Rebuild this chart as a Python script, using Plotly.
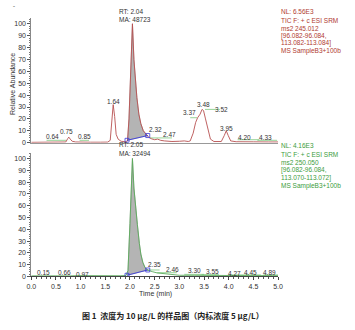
import numpy as np
import plotly.graph_objects as go

# ---------------- data ----------------
# top chromatogram (m/z 245.012 transition), relative abundance %
top_t = [0.0, 0.3, 0.6, 0.70, 0.74, 0.76, 0.79, 0.83, 0.90, 1.0, 1.2, 1.4, 1.55, 1.60, 1.63, 1.66,
         1.69, 1.72, 1.76, 1.82, 1.90, 1.95, 1.98, 2.01, 2.05, 2.08, 2.11, 2.14, 2.18, 2.22, 2.27,
         2.32, 2.38, 2.44, 2.50, 2.56, 2.62, 2.70, 2.85, 3.00, 3.10, 3.18, 3.22, 3.28, 3.33, 3.37,
         3.42, 3.46, 3.49, 3.53, 3.58, 3.63, 3.70, 3.85, 3.91, 3.95, 3.99, 4.04, 4.15, 4.30, 4.50,
         4.80, 5.0]
top_y = [0.3, 0.3, 0.4, 0.6, 3.5, 4.7, 3.0, 1.2, 0.6, 0.4, 0.4, 0.4, 0.5, 2.0, 20, 32,
         22, 7, 3.0, 1.2, 0.8, 1.5, 20, 60, 100, 70, 50, 38, 24, 16, 10,
         7.5, 4.5, 3.2, 2.5, 3.0, 2.0, 1.5, 1.0, 1.2, 1.5, 1.0, 1.5, 8, 17, 21,
         24, 28, 27, 20, 10, 3, 1, 1, 6, 10, 6, 1.5, 0.8, 1.0, 0.7,
         0.6, 0.6]

# bottom chromatogram (internal standard, m/z 250.050)
bot_t = [0.0, 0.15, 0.3, 0.5, 0.66, 0.8, 0.97, 1.2, 1.5, 1.8, 1.92, 1.96, 2.00, 2.05, 2.08, 2.11,
         2.15, 2.19, 2.22, 2.26, 2.30, 2.35, 2.40, 2.46, 2.55, 2.65, 2.80, 3.00, 3.30, 3.55, 3.80,
         4.27, 4.45, 4.89, 5.0]
bot_y = [0.5, 0.8, 0.5, 0.5, 0.8, 0.5, 0.7, 0.5, 0.5, 0.6, 0.8, 5, 45, 100, 75, 58,
         44, 28, 19, 12, 8, 5.5, 4.5, 4.0, 3.0, 2.5, 1.5, 1.0, 1.0, 0.8, 0.7,
         0.7, 0.7, 0.7, 0.6]

# integration baselines (start t, start y, end t, end y)
top_base = [1.94, 2.0, 2.36, 6.0]
bot_base = [1.94, 1.0, 2.36, 5.5]

# green baseline segments (t0, t1, level)
top_green = [(0.31, 0.71, 2.0), (0.98, 1.17, 2.0), (2.40, 2.85, 4.0), (3.22, 3.36, 21.0),
             (3.52, 3.82, 28.0), (4.18, 4.62, 2.5), (4.58, 4.98, 2.0)]
bot_green = [(2.36, 2.60, 5.5), (2.55, 2.95, 3.2), (3.10, 3.50, 1.8), (3.45, 3.80, 1.5),
             (4.00, 4.40, 1.3), (4.35, 4.65, 1.3), (4.70, 5.00, 1.3)]

# peak labels (text, t, y)
top_labels = [("0.64", 0.44, 5.6), ("0.75", 0.715, 9.0), ("0.85", 1.08, 5.6), ("1.64", 1.67, 35),
              ("2.32", 2.51, 11), ("2.47", 2.81, 7), ("3.37", 3.21, 25), ("3.48", 3.48, 32.5),
              ("3.52", 3.85, 28), ("3.95", 3.96, 11.7), ("4.20", 4.32, 4.7), ("4.33", 4.74, 4.2)]
bot_labels = [("0.15", 0.24, 3.4), ("0.66", 0.68, 3.4), ("0.97", 1.04, 2.0), ("2.35", 2.50, 10),
              ("2.46", 2.87, 6), ("3.30", 3.31, 4.8), ("3.55", 3.67, 4.2), ("4.27", 4.11, 2.5),
              ("4.45", 4.45, 3.4), ("4.89", 4.83, 3.4)]

top_rt = ["RT: 2.04", "MA: 48723"]
bot_rt = ["RT: 2.05", "MA: 32494"]
top_info = ["NL: 6.56E3", "TIC F: + c ESI SRM", "ms2 245.012", "[96.082-96.084,",
            "113.082-113.084]", "MS SampleB3+100b"]
bot_info = ["NL: 4.16E3", "TIC F: + c ESI SRM", "ms2 250.050", "[96.082-96.084,",
            "113.070-113.072]", "MS SampleB3+100b"]
x_ticks = [0.0, 0.5, 1.0, 1.5, 2.0, 2.5, 3.0, 3.5, 4.0, 4.5, 5.0]
y_ticks = [0, 10, 20, 30, 40, 50, 60, 70, 80, 90, 100]
caption = "图 1  浓度为 10 μg/L 的样品图（内标浓度 5 μg/L）"

# ---------------- figure ----------------
W, H = 355, 330
RED, RED_TXT = "#b85050", "#b03a30"
GRN, GRN_TXT = "#5aaa5a", "#3c9c3c"
FONT = "Liberation Sans, Arial, sans-serif"

fig = go.Figure()


def add_panel(t, y, base, greens, color, xa, ya):
    t = np.array(t, float)
    y = np.array(y, float)
    t0, y0, t1, y1 = base
    mask = (t > t0) & (t < t1)
    ct = np.concatenate([[t0], t[mask], [t1]])
    cy = np.concatenate([[np.interp(t0, t, y)], y[mask], [np.interp(t1, t, y)]])
    px = np.concatenate([ct, [t1, t0]])
    py = np.concatenate([cy, [y1, y0]])
    fig.add_trace(go.Scatter(x=px, y=py, fill="toself", fillcolor="#b4b4b4",
                             line=dict(color="#909090", width=0.6), mode="lines",
                             xaxis=xa, yaxis=ya, hoverinfo="skip", showlegend=False))
    for g0, g1, lv in greens:
        fig.add_trace(go.Scatter(x=[g0, g1], y=[lv, lv], mode="lines",
                                 line=dict(color="#7cc87c", width=0.8),
                                 xaxis=xa, yaxis=ya, showlegend=False, hoverinfo="skip"))
    fig.add_trace(go.Scatter(x=t, y=y, mode="lines", line=dict(color=color, width=0.9),
                             xaxis=xa, yaxis=ya, showlegend=False, cliponaxis=False))
    fig.add_trace(go.Scatter(x=[t0, t1], y=[y0, y1], mode="lines+markers",
                             line=dict(color="#3a3ad8", width=0.9),
                             marker=dict(symbol="square-open", size=4, color="#3a3ad8",
                                         line=dict(width=0.8)),
                             xaxis=xa, yaxis=ya, showlegend=False))


add_panel(top_t, top_y, top_base, top_green, RED, "x", "y")
add_panel(bot_t, bot_y, bot_base, bot_green, GRN, "x2", "y2")

xdom = [27 / W, 281 / W]
ydom_top = [1 - 144 / H, 1 - 18 / H]
ydom_bot = [1 - 279 / H, 1 - 154 / H]

yax = dict(range=[0, 105], tickvals=y_ticks, ticks="outside", ticklen=3, tickwidth=0.8,
           tickcolor="#555", showline=True, linecolor="#888", linewidth=0.8, showgrid=False,
           zeroline=False, tickfont=dict(family=FONT, size=7, color="#333"),
           minor=dict(dtick=2, ticks="outside", ticklen=1.5, tickcolor="#777"))

fig.update_layout(
    width=W, height=H, margin=dict(l=0, r=0, t=0, b=0),
    paper_bgcolor="white", plot_bgcolor="white",
    xaxis=dict(domain=xdom, range=[0, 5], showticklabels=False, ticks="", showgrid=False,
               zeroline=False, showline=True, linecolor="#999", linewidth=0.8, anchor="y"),
    yaxis=dict(domain=ydom_top, anchor="x", **yax),
    xaxis2=dict(domain=xdom, range=[0, 5], tickvals=x_ticks,
                ticktext=[f"{v:.1f}" for v in x_ticks], ticks="outside", ticklen=3,
                tickwidth=0.8, tickcolor="#444", showline=True, linecolor="#444",
                linewidth=0.8, showgrid=False, zeroline=False, anchor="y2",
                tickfont=dict(family=FONT, size=7, color="#333"),
                minor=dict(dtick=0.1, ticks="outside", ticklen=2, tickcolor="#555")),
    yaxis2=dict(domain=ydom_bot, anchor="x2", **yax),
    font=dict(family=FONT),
)


def pa(text, px, py, size, color, xanchor="center", family=FONT, **kw):
    return dict(text=text, x=px / W, y=1 - py / H, xref="paper", yref="paper",
                xanchor=xanchor, yanchor="middle", showarrow=False,
                font=dict(size=size, color=color, family=family), **kw)


ann = []
for txt, tx, ty in top_labels:
    ann.append(dict(text=txt, x=tx, y=ty, xref="x", yref="y", showarrow=False,
                    xanchor="center", yanchor="middle",
                    font=dict(size=6.5, color="#333", family=FONT)))
for txt, tx, ty in bot_labels:
    ann.append(dict(text=txt, x=tx, y=ty, xref="x2", yref="y2", showarrow=False,
                    xanchor="center", yanchor="middle",
                    font=dict(size=6.5, color="#333", family=FONT)))

for i, txt in enumerate(top_rt):
    ann.append(pa(txt, 115, 11.5 + 8 * i, 6.5, "#333", xanchor="left"))
for i, txt in enumerate(bot_rt):
    ann.append(pa(txt, 115, 146 + 8.5 * i, 6.5, "#333", xanchor="left"))

top_info_y = [12, 20.5, 28.8, 36.3, 43.8, 51.8]
bot_info_y = [146.7, 156, 164.3, 172, 180, 188]
for txt, py in zip(top_info, top_info_y):
    ann.append(pa(txt, 281.5, py, 6.5, RED_TXT, xanchor="left"))
for txt, py in zip(bot_info, bot_info_y):
    ann.append(pa(txt, 281.5, py, 6.5, GRN_TXT, xanchor="left"))

ann.append(pa("Relative Abundance", 7, 85, 7, "#333", textangle=-90))
ann.append(pa("Time (min)", 155, 297, 7, "#333"))
ann.append(pa("ˇ", 9, 8, 6, "#666"))
ann.append(pa("<b>" + caption + "</b>", 173, 318, 8, "#222",
              family="Noto Sans CJK SC, sans-serif"))

fig.update_layout(annotations=ann)
fig.write_html("out.html")
